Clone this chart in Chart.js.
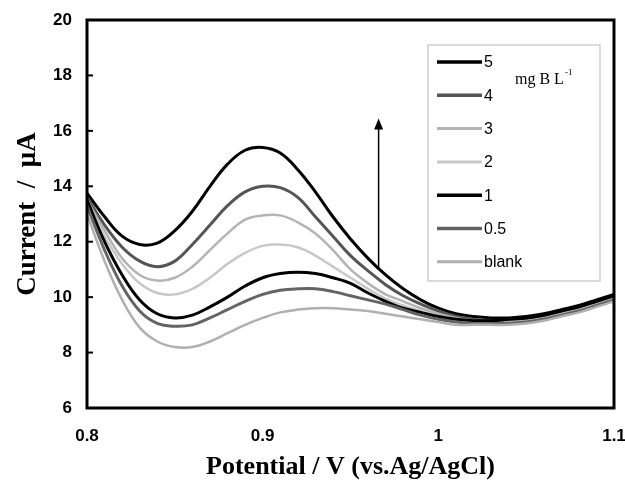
<!DOCTYPE html>
<html>
<head>
<meta charset="utf-8">
<script src="https://cdn.jsdelivr.net/npm/chart.js@4.4.1/dist/chart.umd.min.js"></script>
<style>
  html, body { margin: 0; padding: 0; background: #fff; }
  #wrap { width: 625px; height: 486px; }
</style>
</head>
<body>
<div id="wrap"><canvas id="c" width="625" height="486"></canvas></div>
<script>
const potentials = [0.80,0.81,0.82,0.83,0.84,0.85,0.86,0.87,0.88,0.89,0.90,0.91,0.92,0.93,0.94,0.95,0.96,0.97,0.98,0.99,1.00,1.01,1.02,1.03,1.04,1.05,1.06,1.07,1.08,1.09,1.10];
const seriesNames = ['5','4','3','2','1','0.5','blank'];
const c5 = [13.75,12.9,12.2,11.9,11.95,12.4,13.1,14.0,14.8,15.3,15.4,15.2,14.6,13.8,12.9,12.1,11.4,10.8,10.3,9.9,9.6,9.4,9.3,9.25,9.25,9.3,9.4,9.55,9.7,9.9,10.1];
const c4 = [13.6,12.6,11.8,11.3,11.1,11.3,11.9,12.6,13.3,13.8,14.0,13.95,13.6,12.9,12.2,11.5,10.95,10.45,10.05,9.75,9.5,9.3,9.2,9.15,9.15,9.2,9.3,9.45,9.6,9.8,10.0];
const c3 = [13.5,12.4,11.4,10.8,10.6,10.7,11.1,11.7,12.3,12.8,12.95,12.95,12.7,12.3,11.7,11.0,10.5,10.1,9.85,9.6,9.4,9.25,9.15,9.1,9.1,9.15,9.25,9.4,9.55,9.75,9.95];
const c2 = [13.4,12.2,11.2,10.5,10.15,10.1,10.3,10.7,11.2,11.6,11.85,11.9,11.8,11.5,11.1,10.7,10.3,9.95,9.7,9.5,9.3,9.2,9.1,9.05,9.05,9.1,9.2,9.35,9.5,9.7,9.9];
const c1 = [13.5,12.0,10.8,9.9,9.4,9.25,9.35,9.65,10.0,10.4,10.7,10.85,10.9,10.85,10.7,10.5,10.15,9.85,9.6,9.45,9.3,9.2,9.15,9.15,9.2,9.25,9.35,9.5,9.65,9.85,10.05];
const c05 = [13.3,11.7,10.4,9.5,9.05,8.95,9.0,9.25,9.55,9.85,10.1,10.25,10.3,10.3,10.2,10.05,9.9,9.75,9.55,9.35,9.2,9.1,9.05,9.05,9.05,9.1,9.2,9.35,9.5,9.7,9.9];
const cBlank = [13.0,11.3,9.9,8.9,8.4,8.2,8.2,8.4,8.7,9.0,9.25,9.45,9.55,9.6,9.6,9.55,9.5,9.4,9.3,9.2,9.1,9.0,9.0,9.0,9.0,9.05,9.15,9.3,9.45,9.65,9.85];
const yTicks = [6,8,10,12,14,16,18,20];
const xTicks = [0.8,0.9,1.0,1.1];
const arrowFrom = [0.966, 11.05];
const arrowTo = [0.966, 16.45];

const allSeries = [c5,c4,c3,c2,c1,c05,cBlank];
const colors = ['#000000','#555555','#b4b4b4','#c8c8c8','#000000','#646464','#b0b0b0'];
const widths = [3,3,2.5,2.5,3,3,2.5];

const datasets = allSeries.map((s,i)=>({
  label: seriesNames[i],
  data: s.map((v,j)=>({x: potentials[j], y: v})),
  borderColor: colors[i],
  borderWidth: widths[i],
  pointRadius: 0,
  tension: 0.4,
  fill: false
})).reverse();

const decor = {
  id: 'decor',
  afterDraw(chart) {
    const {ctx, chartArea: a, scales: {x, y}} = chart;
    ctx.save();
    // frame
    ctx.strokeStyle = '#000';
    ctx.lineWidth = 3;
    ctx.strokeRect(a.left, a.top, a.right - a.left, a.bottom - a.top);
    // inward y ticks
    ctx.lineWidth = 2;
    yTicks.forEach(v => {
      const py = y.getPixelForValue(v);
      ctx.beginPath(); ctx.moveTo(a.left, py); ctx.lineTo(a.left + 6, py); ctx.stroke();
    });
    // arrow
    const ax = x.getPixelForValue(arrowFrom[0]);
    const ay0 = y.getPixelForValue(arrowFrom[1]);
    const ay1 = y.getPixelForValue(arrowTo[1]);
    ctx.lineWidth = 1.5;
    ctx.beginPath(); ctx.moveTo(ax, ay0); ctx.lineTo(ax, ay1 + 6); ctx.stroke();
    ctx.fillStyle = '#000';
    ctx.beginPath(); ctx.moveTo(ax, ay1); ctx.lineTo(ax - 4.5, ay1 + 11); ctx.lineTo(ax + 4.5, ay1 + 11); ctx.closePath(); ctx.fill();
    // legend
    const lx = a.left + 341, ly = a.top + 25, lw = 172, lh = 236;
    ctx.fillStyle = '#fff';
    ctx.fillRect(lx, ly, lw, lh);
    ctx.strokeStyle = '#cfcfcf';
    ctx.lineWidth = 1.5;
    ctx.strokeRect(lx, ly, lw, lh);
    ctx.font = '16px "Liberation Sans", Arial, sans-serif';
    ctx.textBaseline = 'middle';
    ctx.textAlign = 'left';
    seriesNames.forEach((n, i) => {
      const ry = ly + 17 + i * 33.3;
      ctx.strokeStyle = colors[i];
      ctx.lineWidth = widths[i] + 0.5;
      ctx.beginPath(); ctx.moveTo(lx + 9, ry); ctx.lineTo(lx + 54, ry); ctx.stroke();
      ctx.fillStyle = '#000';
      ctx.fillText(n, lx + 56, ry + 1);
    });
    ctx.font = '16px "Liberation Serif", "Times New Roman", serif';
    ctx.fillText('mg B L', lx + 87, ly + 35);
    const w = ctx.measureText('mg B L').width;
    ctx.font = '9px "Liberation Serif", serif';
    ctx.fillText('-1', lx + 88 + w, ly + 28);
    ctx.restore();
  }
};

new Chart(document.getElementById('c'), {
  type: 'line',
  data: { datasets },
  options: {
    responsive: false,
    animation: false,
    devicePixelRatio: 1,
    layout: { padding: { left: 0, right: 11, top: 20, bottom: 0 } },
    plugins: { legend: { display: false }, tooltip: { enabled: false } },
    scales: {
      x: {
        type: 'linear', min: 0.8, max: 1.1,
        afterFit: s => { s.height = 78; s.paddingLeft = 0; s.paddingRight = 0; },
        afterBuildTicks: s => { s.ticks = xTicks.map(v => ({value: v})); },
        grid: { display: false, drawTicks: false },
        border: { display: false },
        ticks: { padding: 18, color: '#000', font: { family: '"Liberation Sans", Arial, sans-serif', size: 17, weight: 'bold' },
          callback: v => String(v), maxRotation: 0, autoSkip: false },
        title: { display: true, text: 'Potential / V (vs.Ag/AgCl)', color: '#000',
          font: { family: '"Liberation Serif", "Times New Roman", serif', size: 26, weight: 'bold' },
          padding: { top: 0, bottom: 3 } }
      },
      y: {
        min: 6, max: 20,
        afterFit: s => { s.width = 87; s.paddingTop = 0; s.paddingBottom = 0; },
        afterBuildTicks: s => { s.ticks = yTicks.map(v => ({value: v})); },
        grid: { display: false, drawTicks: false },
        border: { display: false },
        ticks: { padding: 15, color: '#000', font: { family: '"Liberation Sans", Arial, sans-serif', size: 17, weight: 'bold' } },
        title: { display: true, text: 'Current\u2002/\u2002μA', color: '#000',
          font: { family: '"Liberation Serif", "Times New Roman", serif', size: 27, weight: 'bold' },
          padding: { top: 12, bottom: 0 } }
      }
    }
  },
  plugins: [decor]
});
</script>
</body>
</html>
